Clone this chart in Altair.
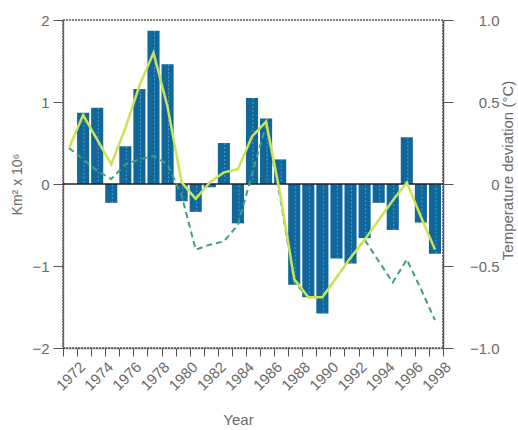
import altair as alt
import pandas as pd

# Bars: area anomaly (Km² x 10^6), one per year
bar_years = list(range(1972, 1998))
area_values = [0.87, 0.93, -0.23, 0.46, 1.16, 1.87, 1.46, -0.21, -0.34, -0.04,
               0.50, -0.48, 1.05, 0.80, 0.30, -1.23, -1.38, -1.58, -0.91, -0.97,
               -0.66, -0.23, -0.56, 0.57, -0.47, -0.85]

# Lines: temperature deviation (°C)
line_years = list(range(1971, 1998))
temp_solid = [0.22, 0.42, 0.27, 0.12, 0.34, 0.60, 0.80, 0.47, 0.01, -0.09,
              0.01, 0.07, 0.09, 0.29, 0.38, -0.06, -0.58, -0.69, -0.69, -0.57,
              -0.45, -0.34, -0.22, -0.10, 0.01, -0.20, -0.40]
temp_dashed = [0.22, 0.15, 0.08, 0.03, 0.12, 0.15, 0.17, 0.12, -0.07, -0.40,
               -0.37, -0.35, -0.25, 0.06, 0.36, -0.08, -0.60, -0.69, -0.69, -0.57,
               -0.45, -0.34, -0.47, -0.60, -0.46, -0.64, -0.83]

left_ticks = [-2, -1, 0, 1, 2]
right_ticks = [-1, -0.5, 0, 0.5, 1]
year_ticks = list(range(1971, 1999))

bars_df = pd.DataFrame({"year": bar_years, "area": area_values})
lines_df = pd.DataFrame({
    "year": line_years * 2,
    "temp": temp_solid + temp_dashed,
    "series": ["solid"] * len(line_years) + ["dashed"] * len(line_years),
})

FONT = "Liberation Sans"
GREY = "#6a6a6a"
AXC = "#555555"

xscale = alt.Scale(domain=[1971, 1998], nice=False, zero=False)
x_axis = alt.Axis(
    values=year_ticks,
    labelExpr="datum.value % 2 == 0 ? format(datum.value, 'd') : ''",
    labelAngle=-45, labelFontSize=15, labelColor=GREY, labelFont=FONT,
    labelOverlap=False, labelFlush=False, labelPadding=3,
    tickSize=8, tickColor=AXC, domainColor=AXC, domainDash=[2, 1], domainWidth=1.5,
    grid=False, title="Year", titleFont=FONT, titleFontSize=15,
    titleFontWeight="normal", titleColor=GREY, titleX=175, titleY=64,
    titleAnchor="middle", titleAlign="center", titleBaseline="top",
)

left_scale = alt.Scale(domain=[-2, 2], nice=False)
left_axis = alt.Axis(
    values=left_ticks,
    labelExpr="datum.value < 0 ? '\u2212' + abs(datum.value) : '' + datum.value",
    labelFontSize=15, labelColor=GREY, labelFont=FONT, labelPadding=4,
    tickSize=10, tickColor=AXC, domainColor=AXC, domainDash=[2, 1], domainWidth=1.5,
    grid=False, title="Km² x 10⁶", titleFont=FONT, titleFontSize=14,
    titleFontWeight="normal", titleColor=GREY, titleX=-46, titleY=164,
    titleAngle=270, titleAlign="center", titleBaseline="middle",
)

right_scale = alt.Scale(domain=[-1, 1], nice=False)
right_axis = alt.Axis(
    orient="right", values=right_ticks,
    labelExpr="datum.value == 0 ? '0' : (datum.value < 0 ? '\u2212' : '') + format(abs(datum.value), '.1f')",
    labelFontSize=15, labelColor=GREY, labelFont=FONT, labelAlign="right",
    labelPadding=46, tickSize=10, tickColor=AXC, domainColor=AXC,
    domainWidth=1.5, grid=False,
    title="Temperature deviation (°C)", titleFont=FONT, titleFontSize=15,
    titleFontWeight="normal", titleColor=GREY, titleX=64, titleY=150,
    titleAngle=270, titleAlign="center", titleBaseline="middle",
)

bars = alt.Chart(bars_df).transform_calculate(
    x0="datum.year", x1="datum.year + 0.86"
).mark_bar(color="#11679a", opacity=1).encode(
    x=alt.X("x0:Q", scale=xscale, axis=x_axis),
    x2="x1:Q",
    y=alt.Y("area:Q", scale=left_scale, axis=left_axis),
    y2=alt.datum(0),
)

stripes = alt.Chart(bars_df).transform_calculate(
    x0="datum.year + 0.5"
).mark_rule(color="#63b6e4", strokeWidth=1, strokeDash=[2, 2], opacity=0.7).encode(
    x=alt.X("x0:Q", scale=xscale, axis=x_axis),
    y=alt.Y("area:Q", scale=left_scale, axis=None),
    y2=alt.datum(0),
)

zero = alt.Chart(pd.DataFrame({"v": [0]})).mark_rule(color="#222222", strokeWidth=1.5).encode(
    y=alt.Y("v:Q", scale=left_scale, axis=None)
)

dashed = alt.Chart(lines_df).transform_filter("datum.series == 'dashed'").transform_calculate(
    x0="datum.year + 0.43"
).mark_line(color="#3f9f80", strokeWidth=2, strokeDash=[6, 4]).encode(
    x=alt.X("x0:Q", scale=xscale, axis=x_axis),
    y=alt.Y("temp:Q", scale=right_scale, axis=right_axis),
)

solid = alt.Chart(lines_df).transform_filter("datum.series == 'solid'").transform_calculate(
    x0="datum.year + 0.43"
).mark_line(color="#c9e35a", strokeWidth=2.5).encode(
    x=alt.X("x0:Q", scale=xscale, axis=x_axis),
    y=alt.Y("temp:Q", scale=right_scale, axis=None),
)

chart = alt.layer(bars, stripes, zero, dashed, solid).resolve_scale(
    y="independent"
).properties(
    width=380, height=328,
    autosize=alt.AutoSizeParams(type="none"),
    padding={"left": 63, "top": 20, "right": 75, "bottom": 82},
    background="white",
).configure_view(
    stroke=AXC, strokeDash=[2, 1], strokeWidth=1.5
)

chart.save("out.html", embed_options={"renderer": "svg", "actions": False})
